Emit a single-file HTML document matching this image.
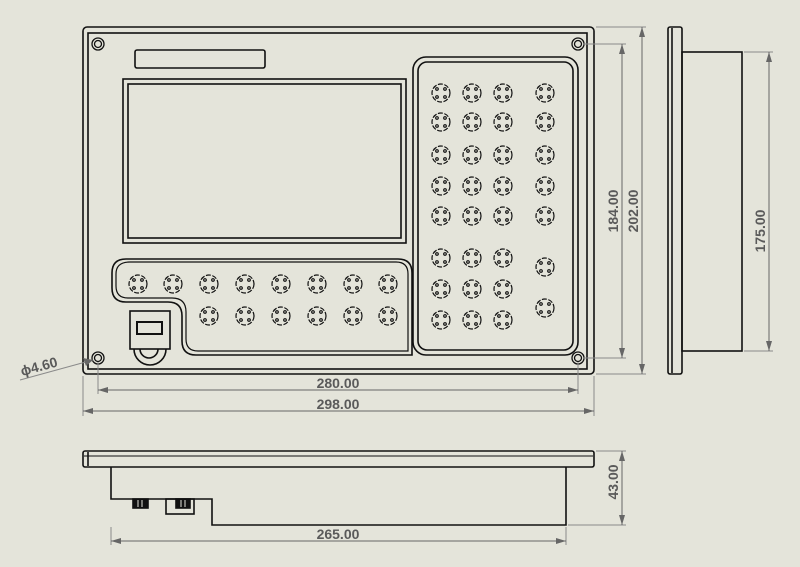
<!DOCTYPE html>
<html><head><meta charset="utf-8"><style>
html,body{margin:0;padding:0;background:#e4e4da;}
svg{display:block}
text{font-family:"Liberation Sans",sans-serif;font-size:14px;font-weight:bold;fill:#5a5a5a}
</style></head><body>
<svg width="800" height="567" viewBox="0 0 800 567" xmlns="http://www.w3.org/2000/svg">
<defs>
<g id="b" fill="none" stroke="#111" stroke-width="1.2">
<circle r="9" stroke-dasharray="5 1.5"/>
<circle cx="-4" cy="-4" r="1.3"/><circle cx="4" cy="-4" r="1.3"/><circle cx="-4" cy="4" r="1.3"/><circle cx="4" cy="4" r="1.3"/>
</g>
<g id="h" fill="none" stroke="#111" stroke-width="1.3"><circle r="6"/><circle r="3.5"/></g>
<marker id="a" viewBox="0 0 10 6" refX="10" refY="3" markerWidth="10" markerHeight="6" orient="auto-start-reverse" markerUnits="userSpaceOnUse"><path d="M0,0L10,3L0,6z" fill="#666"/></marker>
</defs>
<rect width="800" height="567" fill="#e4e4da"/>
<g fill="none" stroke="#111" stroke-width="1.6">
<!-- front view -->
<rect x="83" y="27" width="511" height="347" rx="4"/>
<rect x="88" y="33" width="499" height="336"/>
<rect x="135" y="50" width="130" height="18" rx="2"/>
<rect x="123" y="79" width="283" height="164"/>
<rect x="128" y="84" width="273" height="154"/>
<rect x="413" y="57" width="165" height="298" rx="13"/>
<rect x="418" y="62" width="155" height="288" rx="9"/>
<path d="M126,259 H398 Q412,259 412,273 V355 H196 Q182,355 182,341 V316 Q182,302 168,302 H126 Q112,302 112,288 V273 Q112,259 126,259 Z"/>
<path d="M130,262 H396 Q408,262 408,274 V351 H198 Q186,351 186,339 V312 Q186,298 172,298 H128 Q116,298 116,286 V274 Q116,262 130,262 Z" stroke-width="1.2"/>
<rect x="130" y="311" width="40" height="38"/>
<rect x="137" y="322" width="25" height="12" stroke-width="2"/>
<path d="M134,349 A15,15 0 0 0 166,349"/>
<path d="M140,349 A9,9 0 0 0 158,349"/>
<!-- side view -->
<rect x="668" y="27" width="14" height="347" rx="2"/>
<line x1="672" y1="28" x2="672" y2="373"/>
<rect x="682" y="52" width="60" height="299"/>
<!-- bottom view -->
<rect x="83" y="451" width="511" height="16" rx="2"/>
<line x1="88" y1="452" x2="88" y2="466"/><line x1="84" y1="456" x2="593" y2="456" stroke-width="1"/>
<path d="M111,467 V499 H212 V525 H566 V467"/>
<rect x="133" y="499" width="15" height="9" fill="#111"/>
<rect x="166" y="499" width="28" height="15"/>
<rect x="176" y="499" width="14" height="9" fill="#111"/>
</g>
<g stroke="#e4e4da" stroke-width="1"><line x1="138" y1="500" x2="138" y2="507"/><line x1="142" y1="500" x2="142" y2="507"/><line x1="181" y1="500" x2="181" y2="507"/><line x1="185" y1="500" x2="185" y2="507"/></g>
<use href="#h" x="98" y="44"/><use href="#h" x="578" y="44"/><use href="#h" x="98" y="358"/><use href="#h" x="578" y="358"/>
<!-- right keypad -->
<g>
<use href="#b" x="441" y="93"/><use href="#b" x="472" y="93"/><use href="#b" x="503" y="93"/><use href="#b" x="545" y="93"/>
<use href="#b" x="441" y="122"/><use href="#b" x="472" y="122"/><use href="#b" x="503" y="122"/><use href="#b" x="545" y="122"/>
<use href="#b" x="441" y="155"/><use href="#b" x="472" y="155"/><use href="#b" x="503" y="155"/><use href="#b" x="545" y="155"/>
<use href="#b" x="441" y="186"/><use href="#b" x="472" y="186"/><use href="#b" x="503" y="186"/><use href="#b" x="545" y="186"/>
<use href="#b" x="441" y="216"/><use href="#b" x="472" y="216"/><use href="#b" x="503" y="216"/><use href="#b" x="545" y="216"/>
<use href="#b" x="441" y="258"/><use href="#b" x="472" y="258"/><use href="#b" x="503" y="258"/><use href="#b" x="545" y="267"/>
<use href="#b" x="441" y="289"/><use href="#b" x="472" y="289"/><use href="#b" x="503" y="289"/><use href="#b" x="545" y="308"/>
<use href="#b" x="441" y="320"/><use href="#b" x="472" y="320"/><use href="#b" x="503" y="320"/>
</g>
<g>
<use href="#b" x="138" y="284"/><use href="#b" x="173" y="284"/><use href="#b" x="209" y="284"/><use href="#b" x="245" y="284"/><use href="#b" x="281" y="284"/><use href="#b" x="317" y="284"/><use href="#b" x="353" y="284"/><use href="#b" x="388" y="284"/>
<use href="#b" x="209" y="316"/><use href="#b" x="245" y="316"/><use href="#b" x="281" y="316"/><use href="#b" x="317" y="316"/><use href="#b" x="353" y="316"/><use href="#b" x="388" y="316"/>
</g>
<!-- dimensions -->
<g stroke="#8a8a8a" stroke-width="1" fill="none">
<line x1="98" y1="362" x2="98" y2="394"/><line x1="578" y1="362" x2="578" y2="394"/>
<line x1="83" y1="376" x2="83" y2="416"/><line x1="594" y1="376" x2="594" y2="416"/>
<line x1="583" y1="44" x2="626" y2="44"/><line x1="583" y1="358" x2="626" y2="358"/>
<line x1="596" y1="27" x2="646" y2="27"/><line x1="596" y1="374" x2="646" y2="374"/>
<line x1="744" y1="52" x2="773" y2="52"/><line x1="744" y1="351" x2="773" y2="351"/>
<line x1="596" y1="451" x2="626" y2="451"/><line x1="568" y1="525" x2="626" y2="525"/>
<line x1="111" y1="527" x2="111" y2="545"/><line x1="566" y1="527" x2="566" y2="545"/>
<line x1="20" y1="380" x2="93" y2="360"/>
</g>
<g stroke="#666" stroke-width="1" marker-start="url(#a)" marker-end="url(#a)">
<line x1="98" y1="390" x2="578" y2="390"/>
<line x1="83" y1="411" x2="594" y2="411"/>
<line x1="622" y1="44" x2="622" y2="358"/>
<line x1="642" y1="27" x2="642" y2="374"/>
<line x1="769" y1="52" x2="769" y2="351"/>
<line x1="622" y1="451" x2="622" y2="525"/>
<line x1="111" y1="541" x2="566" y2="541"/>
</g>
<path d="M93,360 L83,358 L86,366 Z" fill="#666"/>
<text x="338" y="388" text-anchor="middle">280.00</text>
<text x="338" y="409" text-anchor="middle">298.00</text>
<text x="338" y="539" text-anchor="middle">265.00</text>
<text transform="translate(618,211) rotate(-90)" text-anchor="middle">184.00</text>
<text transform="translate(638,211) rotate(-90)" text-anchor="middle">202.00</text>
<text transform="translate(765,231) rotate(-90)" text-anchor="middle">175.00</text>
<text transform="translate(618,482) rotate(-90)" text-anchor="middle">43.00</text>
<text transform="translate(22,376) rotate(-15)">ϕ4.60</text>
</svg>
</body></html>
